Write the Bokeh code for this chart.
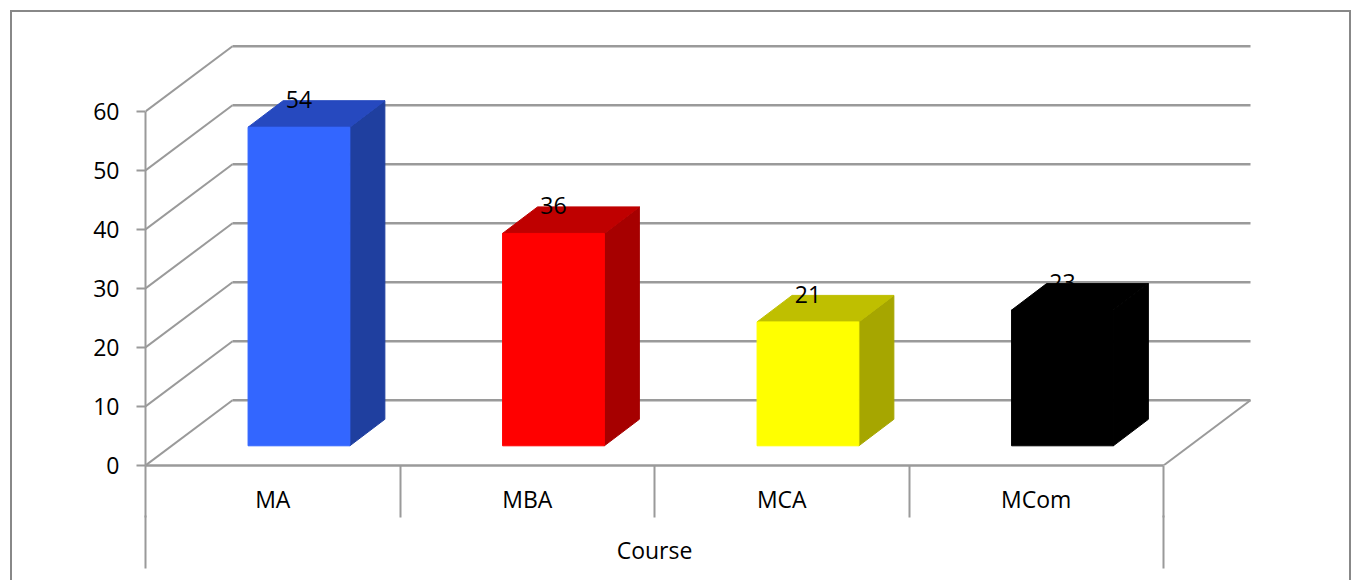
from bokeh.plotting import figure
from bokeh.models import FixedTicker, LinearAxis, Range1d
from bokeh.embed import file_html
from bokeh.resources import INLINE
from bokeh.core.properties import value

categories = ["MA", "MBA", "MCA", "MCom"]
values = [54, 36, 21, 23]
front_colors = ["#3366FF", "#FF0000", "#FFFF00", "#000000"]
top_colors = ["#2649BF", "#BF0000", "#BFBF00", "#000000"]
side_colors = ["#1F3F9F", "#A60000", "#A6A600", "#000000"]
y_ticks = [0, 10, 20, 30, 40, 50, 60]
axis_title = "Course"

FONT = "Open Sans"
GREY = "#9A9A9A"
PX_X = 254.5
PX_Y = 5.9
WALL_DX = 87 / PX_X
WALL_DY = 65.3 / PX_Y
BAR_X0 = 0.403
BAR_W = 0.4
BAR_Y0 = 19.7 / PX_Y
BAR_DX = 35 / PX_X
BAR_DY = 26.5 / PX_Y
n = len(categories)

p = figure(width=1341, height=570, output_backend="svg", toolbar_location=None,
           x_range=Range1d(0, 1114 / PX_X), y_range=Range1d(0, 426 / PX_Y),
           x_axis_type=None, y_axis_type=None,
           min_border_left=133, min_border_right=94, min_border_top=27, min_border_bottom=117,
           outline_line_color=None, background_fill_color="white", border_fill_color="white",
           margin=(10, 0, 0, 10))
p.grid.visible = False
p.styles = {"border-top": "2px solid #888888", "border-left": "2px solid #888888",
            "border-right": "2px solid #888888", "box-sizing": "border-box"}

# value axis
ya = LinearAxis(ticker=FixedTicker(ticks=y_ticks), bounds=(0, 60),
                axis_line_color=GREY, axis_line_width=2,
                major_tick_line_color=GREY, major_tick_line_width=2,
                major_tick_out=9, major_tick_in=0, minor_tick_out=0, minor_tick_in=0,
                major_label_standoff=17, major_label_text_font=FONT,
                major_label_text_font_size="23px", major_label_text_color="black")
p.add_layout(ya, "left")

# category axis with labels at the centres and separators as minor ticks
centers = [i + 0.5 for i in range(n)]
xa = LinearAxis(ticker=FixedTicker(ticks=centers, minor_ticks=list(range(n + 1))),
                major_label_overrides={c: t for c, t in zip(centers, categories)},
                bounds=(0, n), axis_line_color=GREY, axis_line_width=2.5,
                major_tick_out=0, major_tick_in=0,
                minor_tick_out=52, minor_tick_in=0,
                minor_tick_line_color=GREY, minor_tick_line_width=2,
                major_label_standoff=-35, major_label_text_font=FONT,
                major_label_text_font_size="23px", major_label_text_color="black")
p.add_layout(xa, "below")

# second level: the title centred under the categories, with the long end rules
xb = LinearAxis(ticker=FixedTicker(ticks=[n // 2], minor_ticks=[0, n]),
                major_label_overrides={n // 2: axis_title},
                bounds=(0, n), axis_line_color=None, major_tick_line_color=None,
                major_tick_in=0, major_tick_out=0,
                minor_tick_in=2, minor_tick_out=51,
                minor_tick_line_color=GREY, minor_tick_line_width=2,
                major_label_standoff=-35, major_label_text_font=FONT,
                major_label_text_font_size="23px", major_label_text_color="black")
p.add_layout(xb, "below")

# back wall and side wall
for t in y_ticks:
    p.line([WALL_DX, n + WALL_DX], [t + WALL_DY, t + WALL_DY], line_color=GREY, line_width=2.5)
    p.line([0, WALL_DX], [t, t + WALL_DY], line_color=GREY, line_width=2)
p.line([n, n + WALL_DX], [0, WALL_DY], line_color=GREY, line_width=2)

# bars
for i, (v, f, t, s) in enumerate(zip(values, front_colors, top_colors, side_colors)):
    x0 = i + BAR_X0
    x1 = x0 + BAR_W
    y0 = BAR_Y0
    y1 = BAR_Y0 + v
    p.patch([x1, x1 + BAR_DX, x1 + BAR_DX, x1], [y0, y0 + BAR_DY, y1 + BAR_DY, y1],
            fill_color=s, line_color=s, line_width=1)
    p.patch([x0, x1, x1 + BAR_DX, x0 + BAR_DX], [y1, y1, y1 + BAR_DY, y1 + BAR_DY],
            fill_color=t, line_color=t, line_width=1)
    p.quad(left=[x0], right=[x1], bottom=[y0], top=[y1], fill_color=f, line_color=f, line_width=1)

# data labels
p.text(x=[i + BAR_X0 + BAR_W / 2 for i in range(n)],
       y=[v + BAR_Y0 + BAR_DY + 0.2 for v in values],
       text=[str(v) for v in values], text_align="center", text_baseline="middle",
       text_font=value(FONT), text_font_size="23px", text_color="black")

open("out.html", "w").write(file_html(p, INLINE))
